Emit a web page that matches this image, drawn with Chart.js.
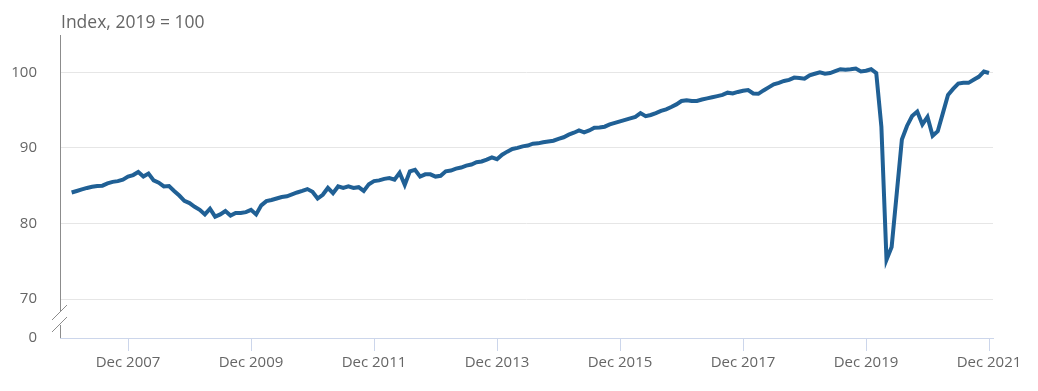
<!DOCTYPE html>
<html>
<head>
<meta charset="utf-8">
<script src="https://cdn.jsdelivr.net/npm/chart.js@4"></script>
<style>
    html, body { margin: 0; padding: 0; background: #fff; }
    #wrap { width: 1038px; height: 391px; }
</style>
</head>
<body>
<div id="wrap"><canvas id="chart"></canvas></div>
<script>
// monthly index, Jan 2007 .. Dec 2021 (2019 = 100)
const startYear = 2007;
const values2007 = [84.1, 84.3, 84.5, 84.7, 84.85, 84.95, 85.0, 85.3, 85.5, 85.6, 85.8, 86.2];
const values2008 = [86.4, 86.8, 86.2, 86.6, 85.7, 85.4, 84.9, 84.95, 84.3, 83.7, 83.0, 82.7];
const values2009 = [82.2, 81.8, 81.2, 81.95, 80.9, 81.2, 81.65, 81.05, 81.4, 81.4, 81.5, 81.8];
const values2010 = [81.2, 82.4, 82.95, 83.1, 83.3, 83.5, 83.6, 83.85, 84.1, 84.3, 84.55, 84.2];
const values2011 = [83.3, 83.8, 84.7, 84.0, 84.9, 84.7, 84.9, 84.7, 84.8, 84.3, 85.2, 85.6];
const values2012 = [85.7, 85.9, 86.0, 85.8, 86.7, 85.1, 86.9, 87.1, 86.2, 86.5, 86.5, 86.2];
const values2013 = [86.3, 86.9, 87.0, 87.25, 87.4, 87.65, 87.8, 88.1, 88.2, 88.45, 88.75, 88.5];
const values2014 = [89.1, 89.5, 89.85, 90.0, 90.2, 90.3, 90.55, 90.6, 90.75, 90.85, 90.95, 91.2];
const values2015 = [91.4, 91.75, 92.0, 92.3, 92.05, 92.3, 92.65, 92.7, 92.8, 93.1, 93.3, 93.5];
const values2016 = [93.7, 93.9, 94.1, 94.6, 94.2, 94.35, 94.6, 94.9, 95.1, 95.4, 95.75, 96.2];
const values2017 = [96.3, 96.2, 96.2, 96.4, 96.55, 96.7, 96.85, 97.0, 97.3, 97.2, 97.4, 97.55];
const values2018 = [97.65, 97.2, 97.15, 97.6, 98.0, 98.4, 98.6, 98.85, 99.0, 99.3, 99.25, 99.15];
const values2019 = [99.6, 99.8, 100.0, 99.8, 99.9, 100.15, 100.4, 100.35, 100.4, 100.5, 100.1, 100.2];
const values2020 = [100.4, 99.9, 92.8, 75.2, 76.9, 84.0, 91.1, 92.9, 94.2, 94.8, 93.1, 94.1];
const values2021 = [91.6, 92.2, 94.6, 97.0, 97.8, 98.5, 98.6, 98.6, 99.0, 99.4, 100.1, 99.9];

const yTicks = [0, 70, 80, 90, 100];
const xTickYears = [2007, 2009, 2011, 2013, 2015, 2017, 2019, 2021];
const titleText = 'Index, 2019 = 100';

const series = [].concat(values2007, values2008, values2009, values2010, values2011,
    values2012, values2013, values2014, values2015, values2016, values2017,
    values2018, values2019, values2020, values2021);
const points = series.map((v, i) => ({ x: i, y: v }));

// the axis is broken: "0" sits just under 70
const ZERO_AT = 64.85;
const decIndex = (year) => (year - startYear) * 12 + 11;

const axisBreak = {
    id: 'axisBreak',
    afterDraw(chart) {
        const { ctx, chartArea } = chart;
        const x = chartArea.left;
        ctx.save();
        ctx.strokeStyle = '#8c8c8c';
        ctx.lineWidth = 1;
        ctx.beginPath();
        ctx.moveTo(x + 0.5, chartArea.top);
        ctx.lineTo(x + 0.5, 311);
        ctx.moveTo(x + 0.5, 325);
        ctx.lineTo(x + 0.5, chartArea.bottom);
        ctx.moveTo(x - 8, 320);
        ctx.lineTo(x + 7, 305);
        ctx.moveTo(x - 8, 332);
        ctx.lineTo(x + 7, 317);
        ctx.stroke();

        ctx.fillStyle = '#666';
        ctx.font = '17.5px "Open Sans"';
        ctx.textBaseline = 'middle';
        ctx.textAlign = 'left';
        ctx.fillText(titleText, 61, 23);
        ctx.restore();
    }
};

new Chart(document.getElementById('chart'), {
    type: 'line',
    data: {
        datasets: [{
            data: points,
            borderColor: '#206095',
            borderWidth: 4,
            pointRadius: 0,
            tension: 0,
            fill: false
        }]
    },
    options: {
        responsive: true,
        maintainAspectRatio: false,
        animation: false,
        layout: { padding: { top: 35, right: 45, left: 0, bottom: 0 } },
        plugins: {
            legend: { display: false },
            tooltip: { enabled: false }
        },
        scales: {
            x: {
                type: 'linear',
                min: -2.27,
                max: 179.78,
                afterBuildTicks: (scale) => {
                    scale.ticks = xTickYears.map((y) => ({ value: decIndex(y) }));
                },
                afterFit: (scale) => { scale.height = 53; },
                ticks: {
                    callback: (v) => 'Dec ' + (startYear + (v - 11) / 12),
                    color: '#666',
                    font: { family: 'Open Sans', size: 15 },
                    padding: 3,
                    maxRotation: 0,
                    autoSkip: false
                },
                grid: {
                    drawOnChartArea: false,
                    drawTicks: true,
                    tickLength: 13,
                    color: '#ccd6eb'
                },
                border: { display: true, color: '#ccd6eb' }
            },
            y: {
                min: ZERO_AT,
                max: 104.93,
                afterBuildTicks: (scale) => {
                    scale.ticks = yTicks.map((v) => ({ value: v === 0 ? ZERO_AT : v }));
                },
                afterFit: (scale) => { scale.width = 60; },
                ticks: {
                    callback: (v) => (v < 65 ? '0' : String(v)),
                    color: '#666',
                    font: { family: 'Open Sans', size: 15 },
                    padding: 23
                },
                grid: {
                    drawTicks: false,
                    color: (c) => (c.tick && c.tick.value < 65 ? 'rgba(0,0,0,0)' : '#e6e6e6')
                },
                border: { display: false }
            }
        }
    },
    plugins: [axisBreak]
});
</script>
</body>
</html>
